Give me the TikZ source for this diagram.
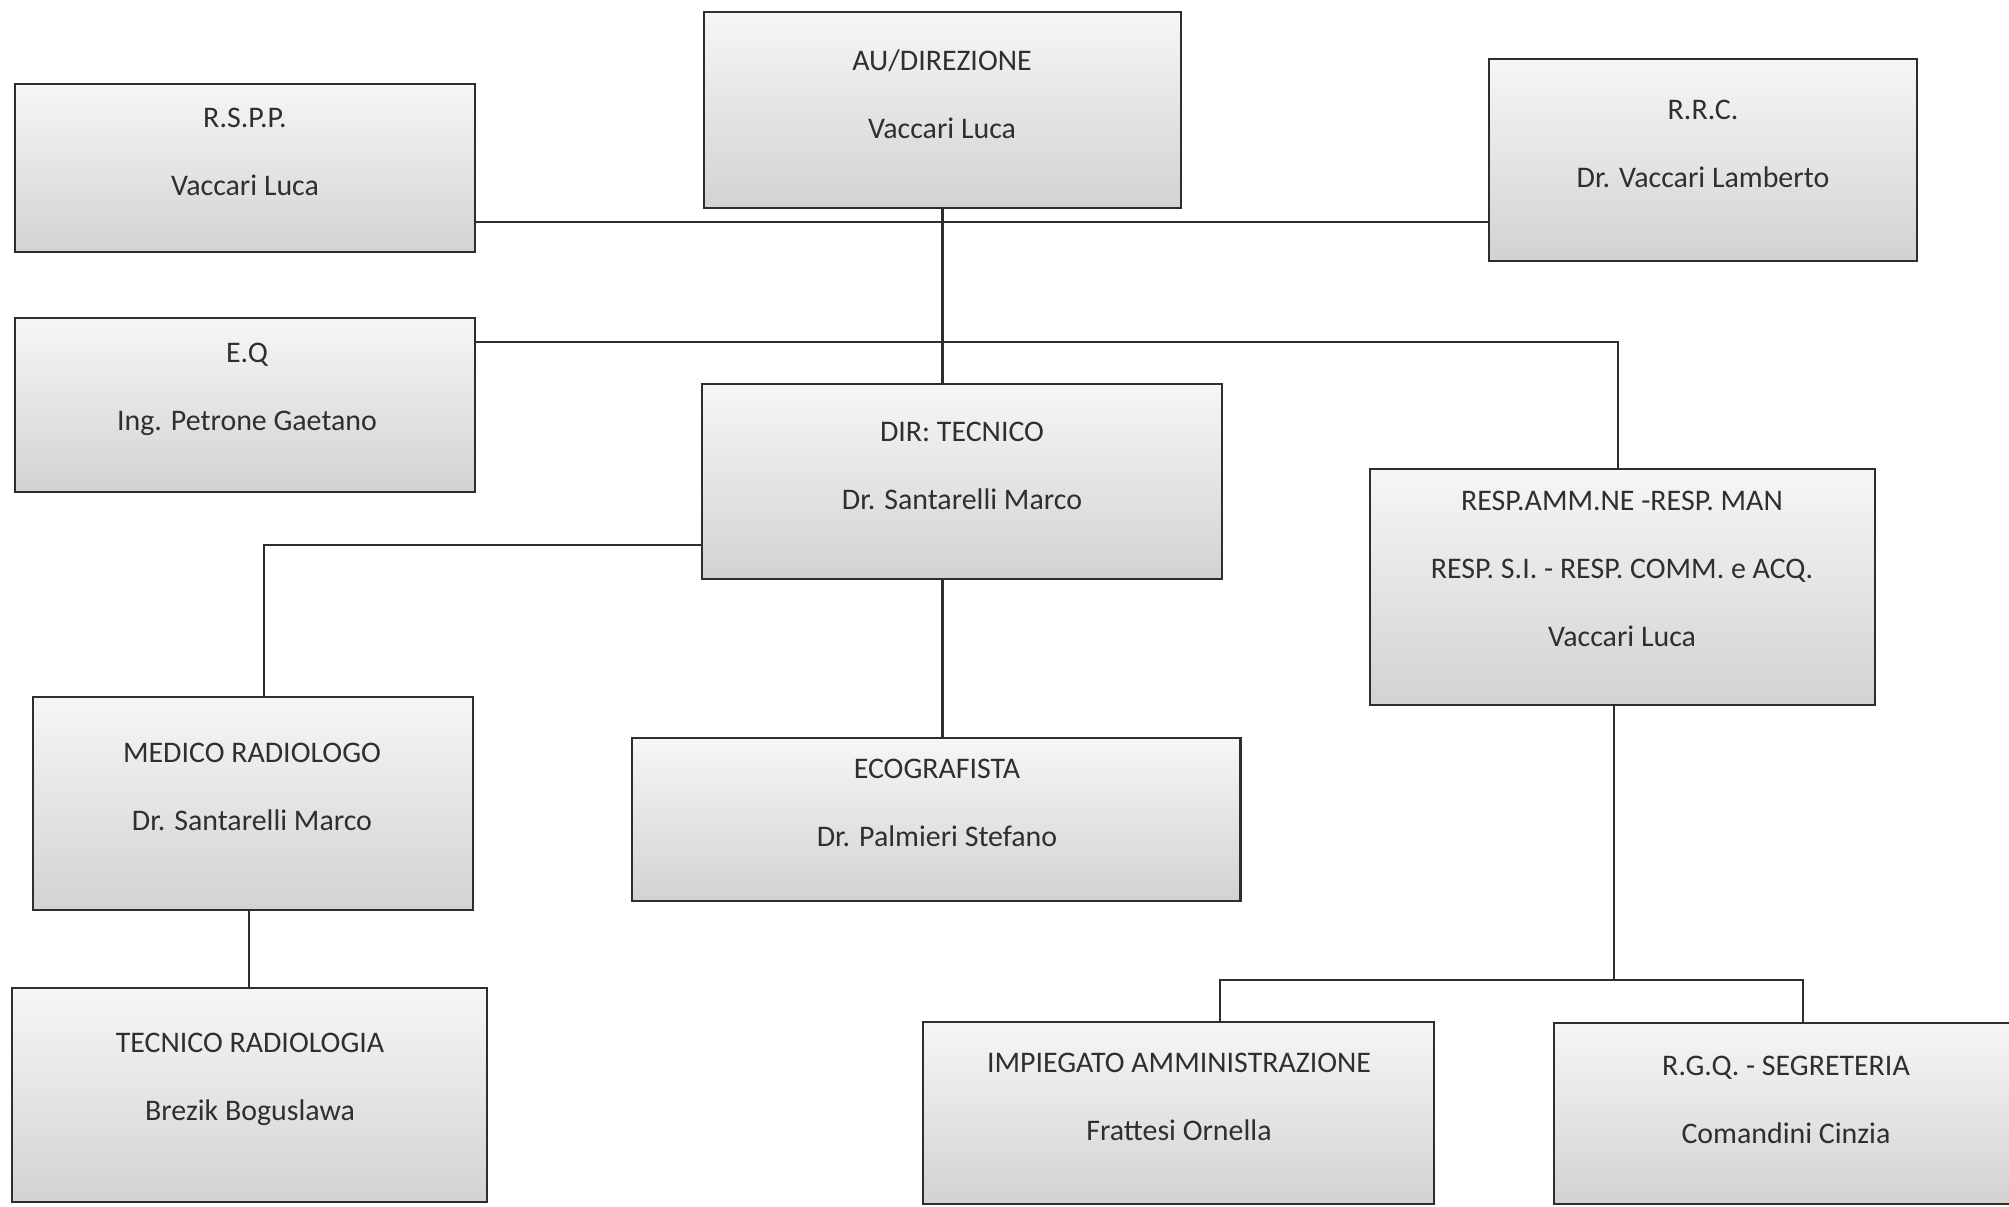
\documentclass[tikz,border=0pt]{standalone}
\usepackage{fontspec}
\setmainfont{Carlito}
\usetikzlibrary{calc}
\definecolor{ink}{HTML}{2E2E2E}
\definecolor{txt}{HTML}{2F2F2F}
\tikzset{
  box/.style={draw=ink, line width=0.75pt, rectangle, inner sep=0pt,
    top color=gray!7, bottom color=gray!35},
  lbl/.style={text=txt, align=center, inner sep=0pt, font=\fontsize{8.5}{19.35}\selectfont},
  conn/.style={draw=ink, line width=0.75pt}
}
\begin{document}
\begin{tikzpicture}[x=0.01cm, y=-0.01cm]
\useasboundingbox (0,0) rectangle (2009,1206);
\clip (0,0) rectangle (2009,1206);
\fill[white] (0,0) rectangle (2009,1206);

% boxes
\node[box, minimum width=4.77cm, minimum height=1.96cm] (au)   at (942.5,110) {};
\node[box, minimum width=4.60cm, minimum height=1.68cm] (rspp) at (245,168) {};
\node[box, minimum width=4.28cm, minimum height=2.02cm] (rrc)  at (1703,160) {};
\node[box, minimum width=4.60cm, minimum height=1.74cm] (eq)   at (245,405) {};
\node[box, minimum width=5.20cm, minimum height=1.95cm] (dir)  at (962,481.5) {};
\node[box, minimum width=5.05cm, minimum height=2.36cm] (resp) at (1622.5,587) {};
\node[box, minimum width=4.40cm, minimum height=2.13cm] (med)  at (253,803.5) {};
\node[box, minimum width=6.08cm, minimum height=1.63cm] (eco)  at (936,819.5) {};
\node[box, minimum width=4.75cm, minimum height=2.14cm] (tec)  at (249.5,1095) {};
\node[box, minimum width=5.11cm, minimum height=1.82cm] (imp)  at (1178.5,1113) {};
\node[box, minimum width=4.64cm, minimum height=1.81cm] (rgq)  at (1786,1113.5) {};

% texts
\node[lbl] (aut)   at (942,94)    {AU/DIREZIONE\\Vaccari Luca};
\node[lbl] (rsppt) at (245,152)   {R.S.P.P.\\Vaccari Luca};
\node[lbl] (rrct)  at (1703,144)  {R.R.C.\\Dr. Vaccari Lamberto};
\node[lbl] (eqt)   at (247,389)   {E.Q\\Ing. Petrone Gaetano};
\node[lbl] (dirt)  at (962,466)   {DIR: TECNICO\\Dr. Santarelli Marco};
\node[lbl] (respt) at (1622,569)  {RESP.AMM.NE -RESP. MAN\\RESP. S.I. - RESP. COMM. e ACQ.\\Vaccari Luca};
\node[lbl] (medt)  at (252,787)   {MEDICO RADIOLOGO\\Dr. Santarelli Marco};
\node[lbl] (ecot)  at (937,803)   {ECOGRAFISTA\\Dr. Palmieri Stefano};
\node[lbl] (tect)  at (250,1079.5){TECNICO RADIOLOGIA\\Brezik Boguslawa};
\node[lbl] (impt)  at (1179,1097) {IMPIEGATO AMMINISTRAZIONE\\Frattesi Ornella};
\node[lbl] (rgqt)  at (1786,1100) {R.G.Q. - SEGRETERIA\\Comandini Cinzia};

% junctions
\coordinate (j1) at (942,222);
\coordinate (j2) at (1618,342);
\coordinate (j3) at (264,545);
\coordinate (j4) at (1614,980);
\coordinate (j5) at (1220,980);
\coordinate (j6) at (1803,980);
\coordinate (j7) at (249,960);

% connectors
\draw[conn] (au.south) -- (au.south |- dir.north);
\draw[conn] (rspp.east |- j1) -- (rrc.west |- j1);
\draw[conn] (eq.east |- j2) -- (j2) -- (j2 |- resp.north);
\draw[conn] (dir.west |- j3) -- (j3) -- (j3 |- med.north);
\draw[conn] (au.south |- dir.south) -- (au.south |- eco.north);
\draw[conn] (j7 |- med.south) -- (j7 |- tec.north);
\draw[conn] (j4 |- resp.south) -- (j4);
\draw[conn] (j5 |- imp.north) -- (j5) -- (j6) -- (j6 |- rgq.north);
\end{tikzpicture}
\end{document}
